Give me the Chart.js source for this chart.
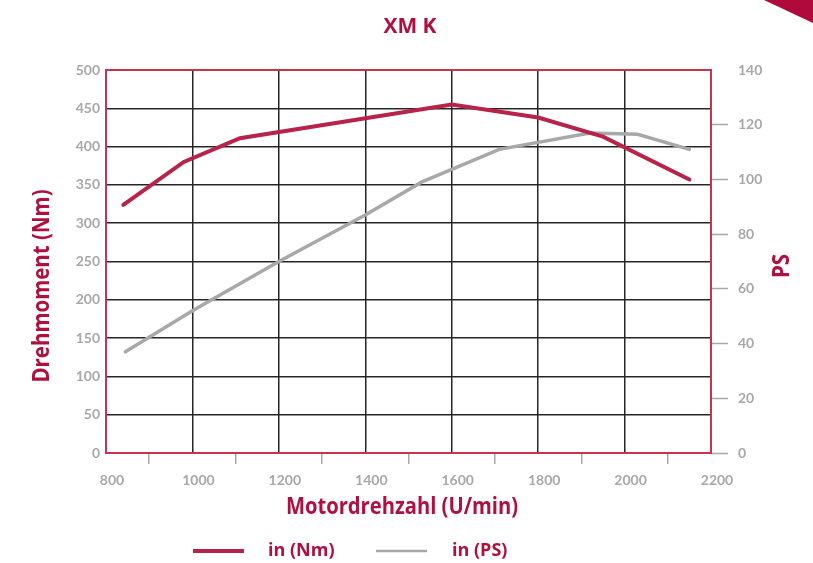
<!DOCTYPE html>
<html>
<head>
<meta charset="utf-8">
<script src="https://cdn.jsdelivr.net/npm/chart.js@4/dist/chart.umd.min.js"></script>
<style>
  html, body { margin: 0; padding: 0; background: #fff; }
  #wrap { width: 813px; height: 563px; }
</style>
</head>
<body>
<div id="wrap"><canvas id="chart" width="813" height="563"></canvas></div>
<script>
// ── Data ──
const torqueRpm = [840, 980, 1110, 1600, 1800, 1950, 2150];
const torqueNm  = [324, 380, 411, 455, 438, 413, 357];
const powerRpm  = [845, 1000, 1200, 1400, 1530, 1710, 1920, 2030, 2150];
const powerPs   = [37, 52, 70, 87, 99, 111, 117, 116.5, 111];

const chartTitle  = "XM K";
const xTitle      = "Motordrehzahl (U/min)";
const yTitle      = "Drehmoment (Nm)";
const y2Title     = "PS";
const seriesNames = ["in (Nm)", "in (PS)"];

// ── Colours ──
const RED   = "#b8234a";
const TEXT  = "#b0103e";
const FRAME = "#c8344f";
const GREY  = "#a8a8a8";
const GRID  = "#262626";
const TICK_FONT = { family: "Lato", size: 14, weight: "bold" };

// bold text, squeezed a little sideways like the original artwork
function drawText(ctx, text, x, y, size, squeeze, rot) {
    ctx.save();
    ctx.translate(x, y);
    if (rot) ctx.rotate(rot);
    ctx.scale(squeeze, 1);
    ctx.font = 'bold ' + size + 'px "Open Sans"';
    ctx.fillText(text, 0, 0);
    ctx.restore();
}

// ── Frame, titles, legend, corner ──
const decor = {
    id: "decor",
    beforeDatasetsDraw(chart) {
        const { ctx, chartArea: a } = chart;
        ctx.save();
        ctx.strokeStyle = FRAME;
        ctx.lineWidth = 2;
        ctx.strokeRect(a.left, a.top, a.right - a.left, a.bottom - a.top);
        ctx.restore();
    },
    afterDraw(chart) {
        const ctx = chart.ctx;
        ctx.save();
        ctx.fillStyle = TEXT;
        ctx.textAlign = "center";
        ctx.textBaseline = "middle";

        drawText(ctx, chartTitle, 410, 27, 22, 0.95, 0);
        drawText(ctx, xTitle, 402, 507, 24, 0.84, 0);
        drawText(ctx, yTitle, 42, 286, 23, 0.89, -Math.PI / 2);
        drawText(ctx, y2Title, 782, 266, 23, 0.89, -Math.PI / 2);

        // legend
        const legendY = 551;
        ctx.lineCap = "butt";
        ctx.strokeStyle = RED;
        ctx.lineWidth = 4;
        ctx.beginPath(); ctx.moveTo(193, legendY); ctx.lineTo(244, legendY); ctx.stroke();
        ctx.strokeStyle = GREY;
        ctx.lineWidth = 2.5;
        ctx.beginPath(); ctx.moveTo(376, legendY); ctx.lineTo(427, legendY); ctx.stroke();
        ctx.textAlign = "left";
        drawText(ctx, seriesNames[0], 268, legendY, 18, 1, 0);
        drawText(ctx, seriesNames[1], 452, legendY, 18, 1, 0);

        // corner triangle
        ctx.fillStyle = "#b00a3c";
        ctx.beginPath();
        ctx.moveTo(764, 0); ctx.lineTo(813, 0); ctx.lineTo(813, 23);
        ctx.closePath();
        ctx.fill();
        ctx.restore();
    }
};

const toPoints = (xs, ys) => xs.map((x, i) => ({ x, y: ys[i] }));

new Chart(document.getElementById("chart"), {
    type: "line",
    data: {
        datasets: [{
            label: seriesNames[0],
            data: toPoints(torqueRpm, torqueNm),
            borderColor: RED,
            borderWidth: 4,
            pointRadius: 0,
            tension: 0,
            borderCapStyle: "round",
            yAxisID: "y"
        }, {
            label: seriesNames[1],
            data: toPoints(powerRpm, powerPs),
            borderColor: GREY,
            borderWidth: 3.5,
            pointRadius: 0,
            tension: 0,
            borderCapStyle: "round",
            yAxisID: "y2"
        }]
    },
    options: {
        responsive: false,
        animation: false,
        devicePixelRatio: 1,
        layout: { padding: { top: 70, left: 0, right: 0, bottom: 0 } },
        scales: {
            x: {
                type: "linear",
                min: 800,
                max: 2200,
                afterFit: s => { s.height = 110; },
                border: { display: false },
                grid: {
                    color: c => (c.tick && c.tick.value % 200 === 0) ? GRID : "transparent",
                    lineWidth: 1.5,
                    tickLength: 11,
                    tickWidth: 1.5,
                    tickColor: c => (c.tick && c.tick.value % 200 !== 0) ? GREY : "transparent"
                },
                ticks: {
                    stepSize: 100,
                    autoSkip: false,
                    maxRotation: 0,
                    padding: 8,
                    labelOffset: 6,
                    color: GREY,
                    font: TICK_FONT,
                    callback: v => v % 200 === 0 ? v : ""
                }
            },
            y: {
                position: "left",
                min: 0,
                max: 500,
                afterFit: s => { s.width = 106; },
                border: { display: false },
                grid: { color: GRID, lineWidth: 1.5, drawTicks: false },
                ticks: { stepSize: 50, padding: 6, color: GREY, font: TICK_FONT }
            },
            y2: {
                position: "right",
                min: 0,
                max: 140,
                afterFit: s => { s.width = 102; },
                border: { display: false },
                grid: {
                    drawOnChartArea: false,
                    tickLength: 17,
                    tickWidth: 1.5,
                    tickColor: c => (c.tick && c.tick.value === 140) ? "transparent" : GREY
                },
                ticks: { stepSize: 20, padding: 10, color: GREY, font: TICK_FONT }
            }
        },
        plugins: {
            legend: { display: false },
            tooltip: { enabled: false }
        }
    },
    plugins: [decor]
});
</script>
</body>
</html>
